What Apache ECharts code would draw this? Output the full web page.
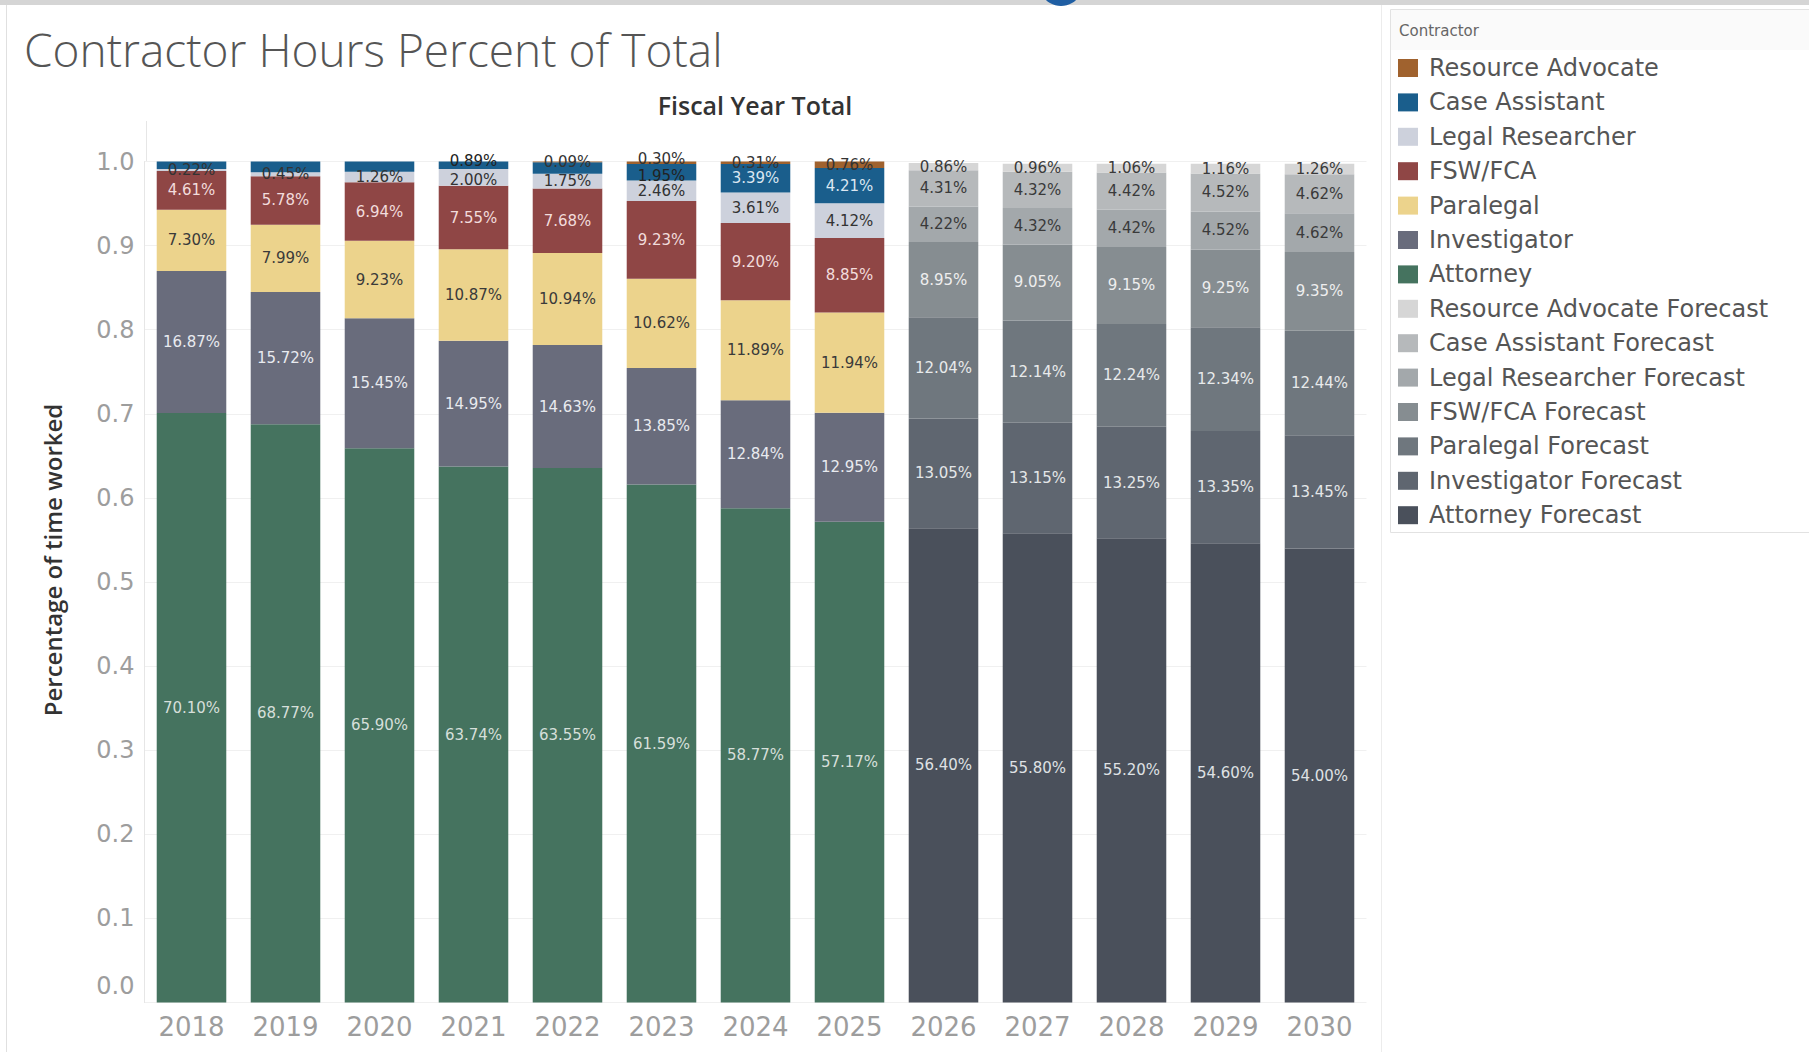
<!DOCTYPE html>
<html>
<head>
<meta charset="utf-8">
<script src="https://cdn.jsdelivr.net/npm/echarts@6/dist/echarts.min.js"></script>
<style>
html,body{margin:0;padding:0;background:#fff;}
#chart{width:1809px;height:1052px;}
</style>
</head>
<body>
<div id="chart"></div>
<script>
// ---- Data ----
const years = ['2018','2019','2020','2021','2022','2023','2024','2025','2026','2027','2028','2029','2030'];
const actualCount = 8; // 2018-2025 actual, 2026-2030 forecast

const attorney         = [70.10, 68.77, 65.90, 63.74, 63.55, 61.59, 58.77, 57.17];
const investigator     = [16.87, 15.72, 15.45, 14.95, 14.63, 13.85, 12.84, 12.95];
const paralegal        = [7.30, 7.99, 9.23, 10.87, 10.94, 10.62, 11.89, 11.94];
const fswFca           = [4.61, 5.78, 6.94, 7.55, 7.68, 9.23, 9.20, 8.85];
const legalResearcher  = [0.22, 0.45, 1.26, 2.00, 1.75, 2.46, 3.61, 4.12];
const caseAssistant    = [0.90, 1.29, 1.22, 0.89, 1.36, 1.95, 3.39, 4.21];
const resourceAdvocate = [null, null, null, null, 0.09, 0.30, 0.31, 0.76];

const attorneyForecast         = [56.40, 55.80, 55.20, 54.60, 54.00];
const investigatorForecast     = [13.05, 13.15, 13.25, 13.35, 13.45];
const paralegalForecast        = [12.04, 12.14, 12.24, 12.34, 12.44];
const fswFcaForecast           = [8.95, 9.05, 9.15, 9.25, 9.35];
const legalResearcherForecast  = [4.22, 4.32, 4.42, 4.52, 4.62];
const caseAssistantForecast    = [4.31, 4.32, 4.42, 4.52, 4.62];
const resourceAdvocateForecast = [0.86, 0.96, 1.06, 1.16, 1.26];

const yTicks = [0, 0.1, 0.2, 0.3, 0.4, 0.5, 0.6, 0.7, 0.8, 0.9, 1.0];

// labels Tableau hid (overlapping small marks)
const hiddenLabels = [['Case Assistant','2018'],['Case Assistant','2019'],['Case Assistant','2020'],['Case Assistant','2022']];
// small vertical nudges (px) for crowded labels at the top of a bar
const labelNudges = {'Resource Advocate|2023': -4, 'Case Assistant|2023': 4, 'Case Assistant|2021': -4, 'Legal Researcher|2021': 3};

// ---- Build series (bottom of stack first) ----
const seriesDefs = [
  {name:'Attorney', vals: attorney, forecast:false, color:'#45735f', lab:'#d6dfda'},
  {name:'Investigator', vals: investigator, forecast:false, color:'#696c7c', lab:'#e8eaef'},
  {name:'Paralegal', vals: paralegal, forecast:false, color:'#ecd38c', lab:'#3a3a3a'},
  {name:'FSW/FCA', vals: fswFca, forecast:false, color:'#8f4645', lab:'#f2dcdc'},
  {name:'Legal Researcher', vals: legalResearcher, forecast:false, color:'#cdd1dc', lab:'#333333'},
  {name:'Case Assistant', vals: caseAssistant, forecast:false, color:'#1a5e8c', lab:'#dbe6f1', smallLab:'#222'},
  {name:'Resource Advocate', vals: resourceAdvocate, forecast:false, color:'#a0622e', lab:'#333333'},
  {name:'Attorney Forecast', vals: attorneyForecast, forecast:true, color:'#4a505b', lab:'#dfe1e4'},
  {name:'Investigator Forecast', vals: investigatorForecast, forecast:true, color:'#5f6670', lab:'#e4e6e8'},
  {name:'Paralegal Forecast', vals: paralegalForecast, forecast:true, color:'#6f777e', lab:'#e8eaeb'},
  {name:'FSW/FCA Forecast', vals: fswFcaForecast, forecast:true, color:'#868d91', lab:'#eeeeee'},
  {name:'Legal Researcher Forecast', vals: legalResearcherForecast, forecast:true, color:'#a3a8ab', lab:'#3a3a3a'},
  {name:'Case Assistant Forecast', vals: caseAssistantForecast, forecast:true, color:'#b6b9bb', lab:'#3a3a3a'},
  {name:'Resource Advocate Forecast', vals: resourceAdvocateForecast, forecast:true, color:'#d6d6d6', lab:'#3a3a3a'}
];

const legendOrder = ['Resource Advocate','Case Assistant','Legal Researcher','FSW/FCA','Paralegal','Investigator','Attorney',
  'Resource Advocate Forecast','Case Assistant Forecast','Legal Researcher Forecast','FSW/FCA Forecast','Paralegal Forecast','Investigator Forecast','Attorney Forecast'];

const FONT = 'DejaVu Sans';

const series = seriesDefs.map(d => {
  const data = years.map((y, i) => {
    let v;
    if (d.forecast) v = i >= actualCount ? d.vals[i - actualCount] : null;
    else v = i < actualCount ? d.vals[i] : null;
    if (v == null) return '-';
    const item = {value: v / 100};
    const lab = {};
    if (d.smallLab && v < 2.5) lab.color = d.smallLab;
    const nudge = labelNudges[d.name + '|' + y];
    if (nudge) lab.offset = [0, nudge];
    if (Object.keys(lab).length) item.label = lab;
    return item;
  });
  return {
    name: d.name,
    type: 'bar',
    stack: 'total',
    barWidth: '74%',
    data: data,
    itemStyle: {color: d.color},
    emphasis: {disabled: true},
    label: {
      show: true,
      position: 'inside',
      fontFamily: FONT,
      fontSize: 15,
      formatter: p => {
        if (p.value === '-' || p.value == null) return '';
        if (hiddenLabels.some(h => h[0] === d.name && h[1] === p.name)) return '';
        return (p.value * 100).toFixed(2) + '%';
      },
      color: d.lab
    }
  };
});

const chart = echarts.init(document.getElementById('chart'), null, {renderer: 'svg'});

chart.setOption({
  animation: false,
  backgroundColor: '#ffffff',
  grid: {left: 144.5, right: 442.5, top: 161.5, bottom: 49.4, containLabel: false},
  legend: {
    data: legendOrder,
    orient: 'vertical',
    left: 1398,
    top: 56,
    padding: 0,
    itemWidth: 20,
    itemHeight: 18,
    itemGap: 10.4,
    icon: 'rect',
    selectedMode: false,
    textStyle: {fontFamily: FONT, fontSize: 24, color: '#555555', lineHeight: 24, padding: [0,0,0,6]}
  },
  xAxis: {
    type: 'category',
    data: years,
    axisLine: {show: false},
    axisTick: {show: false},
    axisLabel: {fontFamily: FONT, fontSize: 26, color: '#9d9d9d', margin: 11}
  },
  yAxis: {
    type: 'value',
    min: 0,
    max: 1,
    interval: 0.1,
    axisLine: {show: true, lineStyle: {color: '#e6e6e6'}},
    axisTick: {show: false},
    splitLine: {lineStyle: {color: '#f0f0f0'}},
    axisLabel: {
      fontFamily: FONT, fontSize: 24, color: '#9d9d9d', margin: 10,
      formatter: v => {
        const t = yTicks.find(k => Math.abs(k - v) < 1e-9);
        const s = (t == null ? v : t).toFixed(1);
        return v === 0 ? '{z|' + s + '}' : s;
      },
      rich: {z: {fontFamily: FONT, fontSize: 24, color: '#9d9d9d', padding: [0,0,33,0]}}
    }
  },
  graphic: [
    {type:'rect', shape:{x:0, y:0, width:1809, height:5}, style:{fill:'#d5d5d5'}, silent:true},
    {type:'circle', shape:{cx:1061, cy:-16, r:22}, style:{fill:'#1f5ea3'}, silent:true},
    {type:'line', shape:{x1:6.5, y1:5, x2:6.5, y2:1052}, style:{stroke:'#e0e0e0', lineWidth:1}, silent:true},
    {type:'line', shape:{x1:1381.5, y1:5, x2:1381.5, y2:1052}, style:{stroke:'#ececec', lineWidth:1}, silent:true},
    {type:'line', shape:{x1:146.5, y1:121, x2:146.5, y2:162}, style:{stroke:'#e6e6e6', lineWidth:1}, silent:true},
    {type:'rect', shape:{x:1390.5, y:9.5, width:430, height:523}, style:{fill:'none', stroke:'#e2e2e2', lineWidth:1}, silent:true},
    {type:'rect', shape:{x:1391, y:10, width:418, height:40}, style:{fill:'#fafafa'}, silent:true},
    {type:'text', left:1399, top:23, style:{text:'Contractor', fontFamily: FONT, fontSize:15, fill:'#666666'}, silent:true},
    {type:'text', left:24, top:26, style:{text:'Contractor Hours Percent of Total', fontFamily:'Open Sans', fontWeight:300, fontSize:46, fill:'#555555'}, silent:true},
    {type:'text', x:755, y:105, style:{text:'Fiscal Year Total', fontFamily:'Open Sans', fontWeight:600, fontSize:25, fill:'#333333', textAlign:'center', textVerticalAlign:'middle'}, silent:true},
    {type:'text', x:52, y:560, rotation: Math.PI/2, style:{text:'Percentage of time worked', fontFamily:'Open Sans', fontWeight:600, fontSize:24, fill:'#333333', textAlign:'center', textVerticalAlign:'middle'}, silent:true}
  ],
  series: series
});
</script>
</body>
</html>
